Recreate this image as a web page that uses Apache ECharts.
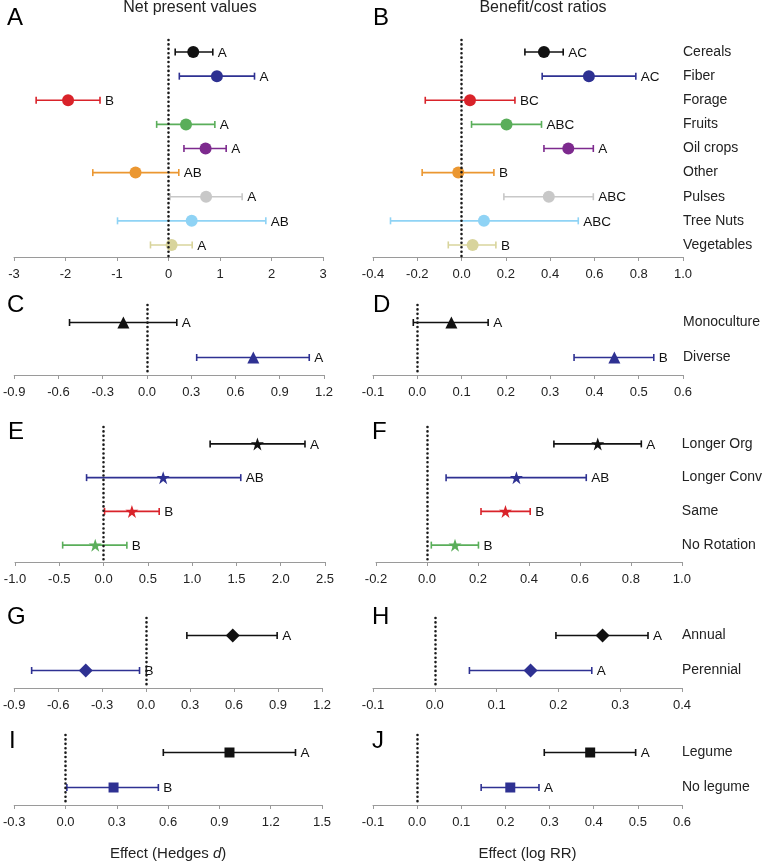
<!DOCTYPE html>
<html>
<head>
<meta charset="utf-8">
<script src="https://cdn.jsdelivr.net/npm/echarts@6/dist/echarts.min.js"></script>
<style>
  html, body { margin: 0; padding: 0; background: #fff; }
  #chart { width: 765px; height: 863px; }
</style>
</head>
<body>
<div id="chart"></div>
<script>
// 数据：作物类型
const cropCats = ['Cereals', 'Fiber', 'Forage', 'Fruits', 'Oil crops', 'Other', 'Pulses', 'Tree Nuts', 'Vegetables']
const cropColors = ['#111111', '#2e3192', '#d9232a', '#5aae5a', '#7d2a8e', '#eb9731', '#c8c8c8', '#8fd3f5', '#d8d49c']

const npvCropMean = [0.48, 0.94, -1.95, 0.34, 0.72, -0.64, 0.73, 0.45, 0.06]
const npvCropLow = [0.13, 0.21, -2.57, -0.23, 0.30, -1.47, 0.03, -0.99, -0.35]
const npvCropHigh = [0.86, 1.67, -1.33, 0.90, 1.12, 0.20, 1.43, 1.89, 0.46]
const npvCropGroup = ['A', 'A', 'B', 'A', 'A', 'AB', 'A', 'AB', 'A']

const bcrCropMean = [0.372, 0.575, 0.038, 0.203, 0.482, -0.015, 0.394, 0.101, 0.050]
const bcrCropLow = [0.286, 0.364, -0.164, 0.045, 0.372, -0.178, 0.191, -0.321, -0.060]
const bcrCropHigh = [0.459, 0.787, 0.241, 0.361, 0.595, 0.146, 0.595, 0.527, 0.155]
const bcrCropGroup = ['AC', 'AC', 'BC', 'ABC', 'A', 'B', 'ABC', 'ABC', 'B']

// 多样性
const divCats = ['Monoculture', 'Diverse']
const npvDivMean = [-0.160, 0.721]
const npvDivLow = [-0.525, 0.337]
const npvDivHigh = [0.202, 1.100]
const npvDivGroup = ['A', 'A']
const bcrDivMean = [0.077, 0.445]
const bcrDivLow = [-0.009, 0.354]
const bcrDivHigh = [0.160, 0.534]
const bcrDivGroup = ['A', 'B']

// 轮作
const rotCats = ['Longer Org', 'Longer Conv', 'Same', 'No Rotation']
const npvRotMean = [1.737, 0.673, 0.320, -0.094]
const npvRotLow = [1.203, -0.192, 0.011, -0.462]
const npvRotHigh = [2.274, 1.549, 0.628, 0.263]
const npvRotGroup = ['A', 'AB', 'B', 'B']
const bcrRotMean = [0.670, 0.351, 0.308, 0.110]
const bcrRotLow = [0.498, 0.075, 0.212, 0.017]
const bcrRotHigh = [0.841, 0.625, 0.405, 0.202]
const bcrRotGroup = ['A', 'AB', 'B', 'B']

// 一年生 / 多年生
const lifeCats = ['Annual', 'Perennial']
const npvLifeMean = [0.591, -0.412]
const npvLifeLow = [0.278, -0.781]
const npvLifeHigh = [0.894, -0.045]
const npvLifeGroup = ['A', 'B']
const bcrLifeMean = [0.2715, 0.155]
const bcrLifeLow = [0.196, 0.056]
const bcrLifeHigh = [0.345, 0.254]
const bcrLifeGroup = ['A', 'A']

// 豆科
const legCats = ['Legume', 'No legume']
const npvLegMean = [0.959, 0.281]
const npvLegLow = [0.572, 0.008]
const npvLegHigh = [1.345, 0.543]
const npvLegGroup = ['A', 'B']
const bcrLegMean = [0.392, 0.211]
const bcrLegLow = [0.288, 0.145]
const bcrLegHigh = [0.495, 0.276]
const bcrLegGroup = ['A', 'A']

const pairColors = ['#111111', '#2e3192']
const rotColors = ['#111111', '#2e3192', '#d9232a', '#5aae5a']

const FONT = '"Liberation Sans", Arial, sans-serif'
const STAR = 'path://M50,0 L61.8,35.1 L98.9,35.1 L68.9,57 L80.3,92.6 L50,70.6 L19.7,92.6 L31.1,57 L1.1,35.1 L38.2,35.1 Z'

const panels = [
  { letter: 'A', cats: cropCats, mean: npvCropMean, low: npvCropLow, high: npvCropHigh, group: npvCropGroup, colors: cropColors,
    symbol: 'circle', size: 12, min: -3, max: 3, interval: 1, dec: 0, showCats: false,
    grid: { left: 14, top: 40, width: 309, height: 217 }, letterPos: [7, 6] },
  { letter: 'B', cats: cropCats, mean: bcrCropMean, low: bcrCropLow, high: bcrCropHigh, group: bcrCropGroup, colors: cropColors,
    symbol: 'circle', size: 12, min: -0.4, max: 1.0, interval: 0.2, dec: 1, showCats: true,
    grid: { left: 373, top: 40, width: 310, height: 217 }, letterPos: [373, 6] },
  { letter: 'C', cats: divCats, mean: npvDivMean, low: npvDivLow, high: npvDivHigh, group: npvDivGroup, colors: pairColors,
    symbol: 'triangle', size: 12, min: -0.9, max: 1.2, interval: 0.3, dec: 1, showCats: false,
    grid: { left: 14, top: 305, width: 310, height: 70 }, letterPos: [7, 293] },
  { letter: 'D', cats: divCats, mean: bcrDivMean, low: bcrDivLow, high: bcrDivHigh, group: bcrDivGroup, colors: pairColors,
    symbol: 'triangle', size: 12, min: -0.1, max: 0.6, interval: 0.1, dec: 1, showCats: true,
    grid: { left: 373, top: 305, width: 310, height: 70 }, letterPos: [373, 293] },
  { letter: 'E', cats: rotCats, mean: npvRotMean, low: npvRotLow, high: npvRotHigh, group: npvRotGroup, colors: rotColors,
    symbol: STAR, size: 13, min: -1.0, max: 2.5, interval: 0.5, dec: 1, showCats: false,
    grid: { left: 15, top: 427, width: 310, height: 135 }, letterPos: [8, 420] },
  { letter: 'F', cats: rotCats, mean: bcrRotMean, low: bcrRotLow, high: bcrRotHigh, group: bcrRotGroup, colors: rotColors,
    symbol: STAR, size: 13, min: -0.2, max: 1.0, interval: 0.2, dec: 1, showCats: true,
    grid: { left: 376, top: 427, width: 309, height: 135 }, letterPos: [372, 420] },
  { letter: 'G', cats: lifeCats, mean: npvLifeMean, low: npvLifeLow, high: npvLifeHigh, group: npvLifeGroup, colors: pairColors,
    symbol: 'diamond', size: 14, min: -0.9, max: 1.2, interval: 0.3, dec: 1, showCats: false,
    grid: { left: 13, top: 618, width: 309, height: 70 }, letterPos: [7, 605] },
  { letter: 'H', cats: lifeCats, mean: bcrLifeMean, low: bcrLifeLow, high: bcrLifeHigh, group: bcrLifeGroup, colors: pairColors,
    symbol: 'diamond', size: 14, min: -0.1, max: 0.4, interval: 0.1, dec: 1, showCats: true,
    grid: { left: 373, top: 618, width: 309, height: 70 }, letterPos: [372, 605] },
  { letter: 'I', cats: legCats, mean: npvLegMean, low: npvLegLow, high: npvLegHigh, group: npvLegGroup, colors: pairColors,
    symbol: 'rect', size: 10, min: -0.3, max: 1.5, interval: 0.3, dec: 1, showCats: false,
    grid: { left: 13, top: 735, width: 309, height: 70 }, letterPos: [9, 729],
    axisName: 'Effect (Hedges {i|d})' },
  { letter: 'J', cats: legCats, mean: bcrLegMean, low: bcrLegLow, high: bcrLegHigh, group: bcrLegGroup, colors: pairColors,
    symbol: 'rect', size: 10, min: -0.1, max: 0.6, interval: 0.1, dec: 1, showCats: true,
    grid: { left: 373, top: 735, width: 309, height: 70 }, letterPos: [372, 729],
    axisName: 'Effect (log RR)' }
]

const fmt = (dec) => (v) => {
  if (Math.abs(v) < 1e-9) v = 0
  return v.toFixed(dec)
}

const grids = []
const xAxes = []
const yAxes = []
const series = []
const graphics = []

panels.forEach((p, i) => {
  grids.push(p.grid)
  xAxes.push({
    type: 'value',
    gridIndex: i,
    min: p.min,
    max: p.max,
    interval: p.interval,
    splitLine: { show: false },
    axisLine: { show: true, lineStyle: { color: '#9a9a9a', width: 1 } },
    axisTick: { show: true, length: 4, lineStyle: { color: '#9a9a9a' } },
    axisLabel: { color: '#222', fontSize: 13, fontFamily: FONT, margin: 11, formatter: fmt(p.dec) },
    name: p.axisName || '',
    nameLocation: 'middle',
    nameGap: 41,
    nameTextStyle: {
      color: '#222', fontSize: 15, fontFamily: FONT,
      rich: { i: { fontStyle: 'italic', fontSize: 15, fontFamily: FONT, color: '#222' } }
    }
  })
  yAxes.push({
    type: 'category',
    gridIndex: i,
    data: p.cats,
    inverse: true,
    position: 'right',
    axisLine: { show: false },
    axisTick: { show: false },
    splitLine: { show: false },
    axisLabel: { show: p.showCats, color: '#222', fontSize: 14, fontFamily: FONT, margin: 0, align: 'left' }
  })

  // 误差线 + 分组字母
  series.push({
    type: 'custom',
    xAxisIndex: i,
    yAxisIndex: i,
    silent: true,
    z: 2,
    data: p.cats.map((c, k) => [p.low[k], p.high[k], k]),
    encode: { x: [0, 1], y: 2 },
    renderItem: (params, api) => {
      const k = params.dataIndex
      const color = p.colors[k]
      const a = api.coord([api.value(0), api.value(2)])
      const b = api.coord([api.value(1), api.value(2)])
      const h = 3.5
      const ls = { stroke: color, lineWidth: 1.6 }
      return {
        type: 'group',
        children: [
          { type: 'line', shape: { x1: a[0], y1: a[1], x2: b[0], y2: b[1] }, style: ls },
          { type: 'line', shape: { x1: a[0], y1: a[1] - h, x2: a[0], y2: a[1] + h }, style: ls },
          { type: 'line', shape: { x1: b[0], y1: b[1] - h, x2: b[0], y2: b[1] + h }, style: ls },
          {
            type: 'text',
            x: b[0] + 5,
            y: b[1] + 1,
            style: { text: p.group[k], fill: '#111', fontSize: 13.5, fontFamily: FONT, verticalAlign: 'middle', align: 'left' }
          }
        ]
      }
    }
  })

  // 均值点 + 零线
  series.push({
    type: 'scatter',
    xAxisIndex: i,
    yAxisIndex: i,
    silent: true,
    z: 3,
    symbol: p.symbol,
    symbolSize: p.size,
    data: p.mean.map((m, k) => [m, k]),
    itemStyle: { color: (params) => p.colors[params.dataIndex], opacity: 1 },
    markLine: {
      silent: true,
      symbol: 'none',
      label: { show: false },
      animation: false,
      lineStyle: { color: '#1a1a1a', width: 2.6, type: [0.01, 4.4], cap: 'round' },
      data: [{ xAxis: 0 }]
    }
  })

  graphics.push({
    type: 'text',
    x: p.letterPos[0],
    y: p.letterPos[1],
    style: { text: p.letter, fill: '#000', fontSize: 24, fontFamily: FONT, verticalAlign: 'top' }
  })
})

graphics.push({
  type: 'text', x: 190, y: 0,
  style: { text: 'Net present values', fill: '#222', fontSize: 16, fontFamily: FONT, align: 'center', verticalAlign: 'top' }
})
graphics.push({
  type: 'text', x: 543, y: 0,
  style: { text: 'Benefit/cost ratios', fill: '#222', fontSize: 16, fontFamily: FONT, align: 'center', verticalAlign: 'top' }
})

const chart = echarts.init(document.getElementById('chart'))
chart.setOption({
  animation: false,
  backgroundColor: '#fff',
  grid: grids,
  xAxis: xAxes,
  yAxis: yAxes,
  series: series,
  graphic: graphics
})
</script>
</body>
</html>
